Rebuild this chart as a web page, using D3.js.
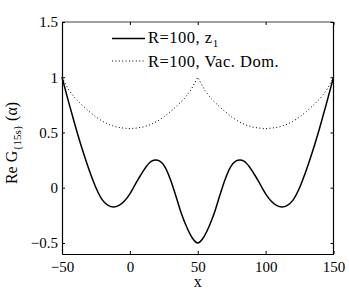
<!DOCTYPE html>
<meta charset="utf-8">
<script src="https://d3js.org/d3.v7.min.js"></script>
<style>
  body { margin: 0; background: #fff; }
  text { font-family: "Liberation Serif", "Times New Roman", serif; fill: #000; }
</style>
<body>
<div id="chart"></div>
<script>
    // values
    var xsZ1 = [-50, -45, -40, -35, -30, -25, -20, -16, -12, -8, -4, 0, 4, 8, 12, 16, 19, 22, 26, 30, 34, 38, 42, 46, 50,
        54, 58, 62, 66, 70, 74, 78, 81, 84, 88, 92, 96, 100, 104, 108, 112, 116, 120, 125, 130, 135, 140, 145, 150];
    var z1 = [1.0, 0.77, 0.55, 0.345, 0.16, 0.0, -0.115, -0.16, -0.175, -0.16, -0.12, -0.055, 0.03, 0.115, 0.19, 0.24, 0.25, 0.24, 0.185, 0.07, -0.08, -0.235, -0.36, -0.455, -0.5,
        -0.455, -0.36, -0.235, -0.08, 0.07, 0.185, 0.24, 0.25, 0.24, 0.19, 0.115, 0.03, -0.055, -0.12, -0.16, -0.175, -0.16, -0.115, 0.0, 0.16, 0.345, 0.55, 0.77, 1.0];
    var xsVac = [-50, -45, -40, -35, -30, -25, -20, -15, -10, -5, 0, 5, 10, 15, 20, 25, 30, 35, 40, 45, 50,
        55, 60, 65, 70, 75, 80, 85, 90, 95, 100, 105, 110, 115, 120, 125, 130, 135, 140, 145, 150];
    var vacDom = [1.0, 0.885, 0.805, 0.745, 0.69, 0.64, 0.60, 0.57, 0.55, 0.54, 0.535, 0.54, 0.55, 0.57, 0.60, 0.64, 0.69, 0.745, 0.805, 0.885, 1.0,
        0.885, 0.805, 0.745, 0.69, 0.64, 0.60, 0.57, 0.55, 0.54, 0.535, 0.54, 0.55, 0.57, 0.60, 0.64, 0.69, 0.745, 0.805, 0.885, 1.0];
    var xTicks = [-50, 0, 50, 100, 150];
    var yTicks = [-0.5, 0, 0.5, 1, 1.5];
    var legendLabels = ["R=100, z", "R=100, Vac. Dom."];

    var width = 349, height = 291;
    var margin = { left: 62, right: 15.5, top: 22, bottom: 37 };

    var svg = d3.select("#chart").append("svg")
        .attr("width", width)
        .attr("height", height);

    var x = d3.scaleLinear().domain([-50, 150]).range([margin.left, width - margin.right]);
    var y = d3.scaleLinear().domain([-0.6, 1.5]).range([height - margin.bottom, margin.top]);

    var fmt = function (d) { return String(d).replace("-", "\u2212"); };

    // frame
    svg.append("line").attr("x1", x(-50)).attr("x2", x(150)).attr("y1", y(1.5)).attr("y2", y(1.5))
        .attr("stroke", "#808080").attr("stroke-width", 1.6);
    svg.append("line").attr("x1", x(150)).attr("x2", x(150)).attr("y1", y(1.5)).attr("y2", y(-0.6))
        .attr("stroke", "#000").attr("stroke-width", 1.2);

    // bottom axis + top ticks
    svg.append("g").attr("transform", "translate(0," + y(-0.6) + ")")
        .call(d3.axisBottom(x).tickValues(xTicks).tickSizeInner(-3).tickSizeOuter(0).tickPadding(7).tickFormat(fmt));
    svg.append("g").attr("transform", "translate(0," + y(1.5) + ")")
        .call(d3.axisTop(x).tickValues(xTicks).tickSizeInner(-3).tickSizeOuter(0).tickFormat(""))
        .select(".domain").remove();

    // left axis + right ticks
    svg.append("g").attr("transform", "translate(" + x(-50) + ",0)")
        .call(d3.axisLeft(y).tickValues(yTicks).tickSizeInner(-3).tickSizeOuter(0).tickPadding(4).tickFormat(fmt));
    svg.append("g").attr("transform", "translate(" + x(150) + ",0)")
        .call(d3.axisRight(y).tickValues(yTicks).tickSizeInner(-3).tickSizeOuter(0).tickFormat(""))
        .select(".domain").remove();

    svg.selectAll(".domain").attr("stroke-width", 1.2);
    svg.selectAll(".tick text").attr("font-size", 15).style("font-family", "Liberation Serif");

    // curves
    var pts1 = xsZ1.map(function (d, i) { return [d, z1[i]]; });
    var pts2 = xsVac.map(function (d, i) { return [d, vacDom[i]]; });

    var smooth = d3.line().x(function (d) { return x(d[0]); }).y(function (d) { return y(d[1]); })
        .curve(d3.curveMonotoneX);
    var straight = d3.line().x(function (d) { return x(d[0]); }).y(function (d) { return y(d[1]); });

    svg.append("path").attr("d", straight(pts2))
        .attr("fill", "none").attr("stroke", "#000").attr("stroke-width", 1)
        .attr("stroke-dasharray", "1,2.4");
    svg.append("path").attr("d", smooth(pts1))
        .attr("fill", "none").attr("stroke", "#000").attr("stroke-width", 1.5);

    // legend
    var lg = svg.append("g").style("letter-spacing", "0.5px");
    lg.append("line").attr("x1", 112).attr("x2", 145).attr("y1", 38.5).attr("y2", 38.5)
        .attr("stroke", "#000").attr("stroke-width", 1.5);
    var t1 = lg.append("text").attr("x", 148).attr("y", 43).attr("font-size", 16.5).text(legendLabels[0]);
    t1.append("tspan").attr("font-size", 11).attr("dy", 4).text("1");
    lg.append("line").attr("x1", 112).attr("x2", 145).attr("y1", 61).attr("y2", 61)
        .attr("stroke", "#000").attr("stroke-width", 1).attr("stroke-dasharray", "1,2.4");
    lg.append("text").attr("x", 148).attr("y", 66.5).attr("font-size", 16.5).text(legendLabels[1]);

    // axis labels
    svg.append("text").attr("x", x(50)).attr("y", 287).attr("text-anchor", "middle")
        .attr("font-size", 16).text("x");

    var yl = svg.append("text").attr("transform", "translate(17,143) rotate(-90)")
        .attr("text-anchor", "middle").attr("font-size", 16);
    yl.append("tspan").text("Re G");
    yl.append("tspan").attr("font-size", 11).attr("dy", 4).text("{15s}");
    yl.append("tspan").attr("dy", -4).text(" (\u03b1)");
</script>
</body>
